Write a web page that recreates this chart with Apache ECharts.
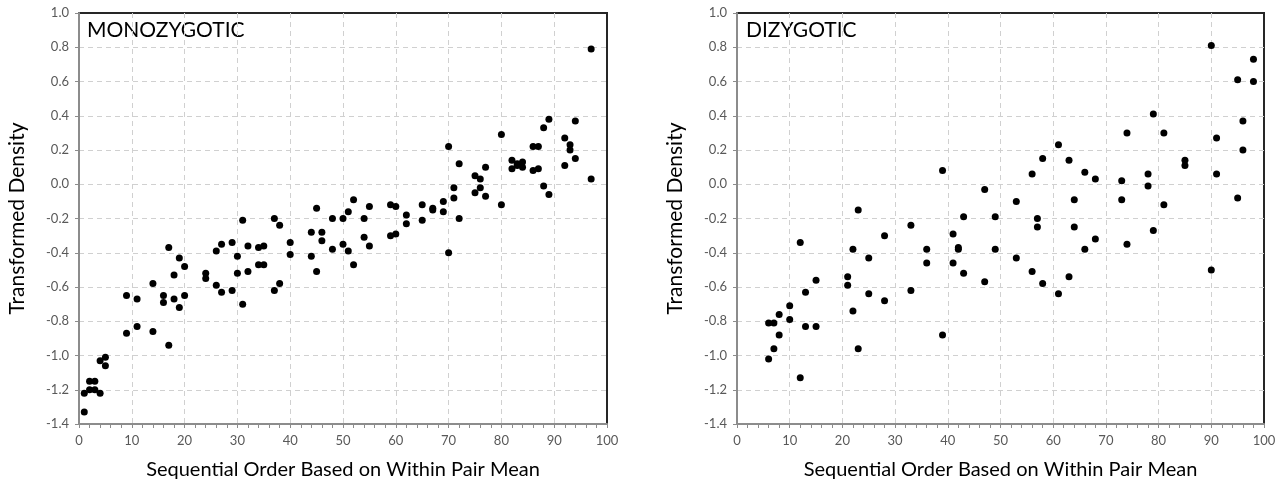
<!DOCTYPE html>
<html><head><meta charset="utf-8">
<script src="https://cdn.jsdelivr.net/npm/echarts@6/dist/echarts.min.js"></script>
<style>html,body{margin:0;padding:0;background:#fff}#c{width:1284px;height:485px}</style>
</head><body><div id="c"></div>
<script>
// Monozygotic: [sequential order, transformed density]
const mzX = [1,1,2,2,3,3,4,4,5,5,9,9,11,11,14,14,16,16,17,17,18,18,19,19,20,20,24,24,26,26,27,27,29,29,30,30,31,31,32,32,34,34,35,35,37,37,38,38,40,40,44,44,45,45,46,46,48,48,50,50,51,51,52,52,54,54,55,55,59,59,60,60,62,62,65,65,67,67,69,69,70,70,71,71,72,72,75,75,76,76,77,77,80,80,82,82,83,83,84,84,86,86,87,87,88,88,89,89,92,92,93,93,94,94,97,97];
const mzY = [-1.22,-1.33,-1.15,-1.20,-1.15,-1.20,-1.22,-1.03,-1.01,-1.06,-0.65,-0.87,-0.67,-0.83,-0.58,-0.86,-0.65,-0.69,-0.37,-0.94,-0.53,-0.67,-0.43,-0.72,-0.48,-0.65,-0.52,-0.55,-0.39,-0.59,-0.35,-0.63,-0.34,-0.62,-0.42,-0.52,-0.21,-0.70,-0.36,-0.51,-0.37,-0.47,-0.36,-0.47,-0.20,-0.62,-0.24,-0.58,-0.34,-0.41,-0.28,-0.42,-0.14,-0.51,-0.28,-0.33,-0.20,-0.38,-0.20,-0.35,-0.16,-0.39,-0.09,-0.47,-0.20,-0.31,-0.13,-0.36,-0.12,-0.30,-0.13,-0.29,-0.18,-0.23,-0.12,-0.21,-0.14,-0.15,-0.10,-0.16,0.22,-0.40,-0.02,-0.08,0.12,-0.20,0.05,-0.05,0.03,-0.02,0.10,-0.07,0.29,-0.12,0.14,0.09,0.12,0.11,0.13,0.10,0.22,0.08,0.22,0.09,0.33,-0.01,0.38,-0.06,0.27,0.11,0.23,0.20,0.37,0.15,0.79,0.03];
// Dizygotic
const dzX = [6,6,7,7,8,8,10,10,12,12,13,13,15,15,21,21,22,22,23,23,25,25,28,28,33,33,36,36,39,39,41,41,42,42,43,43,47,47,49,49,53,53,56,56,57,57,58,58,61,61,63,63,64,64,66,66,68,68,73,73,74,74,78,78,79,79,81,81,85,85,90,90,91,91,95,95,96,96,98,98];
const dzY = [-0.81,-1.02,-0.81,-0.96,-0.76,-0.88,-0.71,-0.79,-0.34,-1.13,-0.63,-0.83,-0.56,-0.83,-0.54,-0.59,-0.38,-0.74,-0.15,-0.96,-0.43,-0.64,-0.30,-0.68,-0.24,-0.62,-0.38,-0.46,0.08,-0.88,-0.29,-0.46,-0.37,-0.38,-0.19,-0.52,-0.03,-0.57,-0.19,-0.38,-0.10,-0.43,0.06,-0.51,-0.20,-0.25,0.15,-0.58,0.23,-0.64,0.14,-0.54,-0.09,-0.25,0.07,-0.38,0.03,-0.32,0.02,-0.09,0.30,-0.35,0.06,-0.01,0.41,-0.27,0.30,-0.12,0.14,0.11,0.81,-0.50,0.27,0.06,0.61,-0.08,0.37,0.20,0.73,0.60];
const panelTitles = ['MONOZYGOTIC','DIZYGOTIC'];
const xTitle = 'Sequential Order Based on Within Pair Mean';
const yTitle = 'Transformed Density';

const FONT = 'Lato';
const grids = [
  {left:79, top:13, width:528, height:414},
  {left:737, top:13, width:527, height:414}
];
const splitStyle = {show:true, showMinLine:false, showMaxLine:false,
  lineStyle:{color:'#d0d0d0', type:[5,4], width:1}};
function xAx(i){
  return {gridIndex:i, type:'value', min:0, max:100, interval:10,
    name:xTitle, nameLocation:'middle', nameGap:36,
    nameTextStyle:{fontFamily:FONT, fontSize:20, color:'#000'},
    axisLine:{show:true, onZero:false, lineStyle:{color:'#8c8c8c', width:2}},
    axisTick:{show:true, length:4, lineStyle:{color:'#8c8c8c'}},
    minorTick:{show:true, splitNumber:5, length:4, lineStyle:{color:'#8c8c8c'}},
    axisLabel:{fontFamily:FONT, fontSize:13, color:'#595959', margin:10},
    splitLine:splitStyle
  };
}
function yAx(i){
  return {gridIndex:i, type:'value', min:-1.4, max:1.0, interval:0.2,
    name:yTitle, nameLocation:'middle', nameGap:51, nameRotate:90,
    nameTextStyle:{fontFamily:FONT, fontSize:21, color:'#000'},
    axisLine:{show:true, onZero:false, lineStyle:{color:'#8c8c8c', width:2}},
    axisTick:{show:true, length:4, lineStyle:{color:'#8c8c8c'}},
    axisLabel:{fontFamily:FONT, fontSize:13, color:'#595959', margin:10,
      formatter:v=>v.toFixed(1)},
    splitLine:splitStyle
  };
}
const chart = echarts.init(document.getElementById('c'), null, {renderer:'canvas'});
chart.setOption({
  animation:false,
  backgroundColor:'#fff',
  grid: grids.map(g=>Object.assign({show:true, borderColor:'#262626', borderWidth:2, backgroundColor:'transparent'}, g)),
  xAxis:[xAx(0), xAx(1)],
  yAxis:[yAx(0), yAx(1)],
  series:[
    {type:'scatter', xAxisIndex:0, yAxisIndex:0, symbolSize:7, itemStyle:{color:'#000', opacity:1},
     data: mzX.map((x,k)=>[x, mzY[k]])},
    {type:'scatter', xAxisIndex:1, yAxisIndex:1, symbolSize:7, itemStyle:{color:'#000', opacity:1},
     data: dzX.map((x,k)=>[x, dzY[k]])}
  ],
  graphic:[
    {type:'text', left:87, top:20, style:{text:panelTitles[0], font:'21px '+FONT, fill:'#000'}},
    {type:'text', left:746, top:20, style:{text:panelTitles[1], font:'21px '+FONT, fill:'#000'}}
  ]
});
</script></body></html>
